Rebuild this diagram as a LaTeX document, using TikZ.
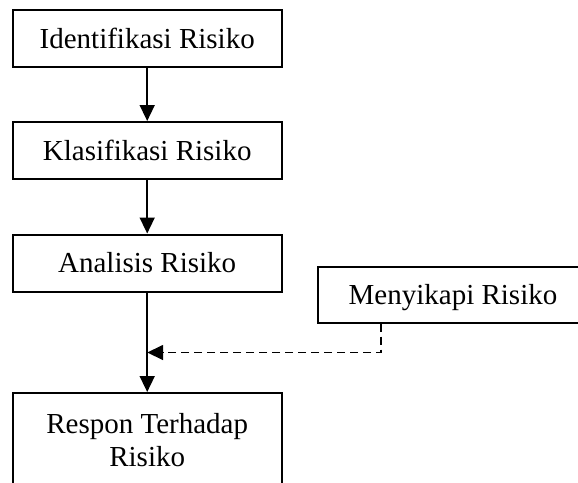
\documentclass[tikz,border=0pt]{standalone}
\usepackage{fontspec}
\setmainfont{Liberation Serif}
\usetikzlibrary{arrows.meta,calc}
\begin{document}
\begin{tikzpicture}[x=1pt,y=-1pt,
  base/.style={draw,line width=2pt,minimum width=269pt,inner sep=0pt,font=\fontsize{29}{33}\selectfont},
  box/.style={base,minimum height=57pt,text height=19.5pt,text depth=0pt},
  flow/.style={line width=1.6pt,-{Triangle[length=16pt,width=15pt]}},
  dashflow/.style={flow,dash pattern=on 8pt off 5pt}]
\useasboundingbox (0,0) rectangle (578,482);
\clip (0,0) rectangle (578,482);
\node[box] (I) at (147.2,38.5) {Identifikasi Risiko};
\node[box] (K) at (147.2,150.5) {Klasifikasi Risiko};
\node[box] (A) at (147.2,263) {Analisis Risiko};
\node[box,minimum width=270pt,minimum height=56pt] (M) at (453,294.5) {Menyikapi Risiko};
\node[base,anchor=north,minimum height=94pt,align=center] (R) at (147.2,392) {Respon Terhadap\\Risiko};
\coordinate (dk) at (381,352.5);
\draw[flow] (I) -- (K);
\draw[flow] (K) -- (A);
\draw[flow] (A) -- (R);
\draw[dashflow] (dk |- M.south) -- (dk) -- (dk -| A.south);
\end{tikzpicture}
\end{document}
